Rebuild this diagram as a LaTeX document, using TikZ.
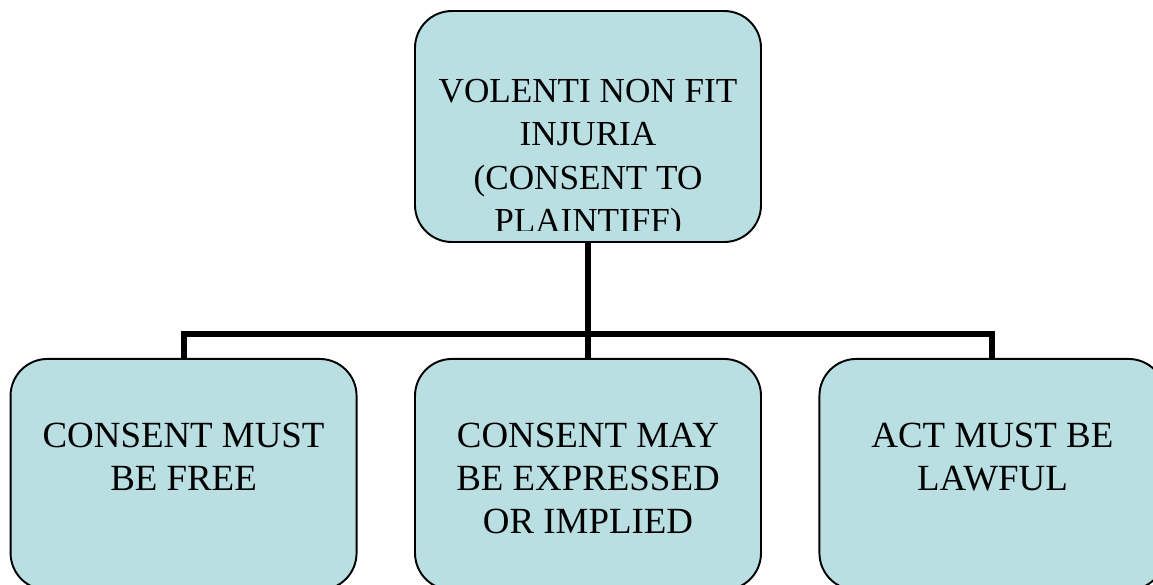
\documentclass[tikz,border=0pt]{standalone}
\usepackage{fontspec}
\setmainfont{Liberation Serif}
\usetikzlibrary{positioning}
\definecolor{boxFill}{HTML}{B9DFE3}
\definecolor{inkText}{HTML}{000000}

\begin{document}
\begin{tikzpicture}[
  every node/.style={text=inkText},
  box/.style={rounded corners=21pt, draw=black, line width=1.1pt, fill=boxFill,
              minimum width=6.92cm, minimum height=4.62cm, inner sep=0pt},
  txt/.style={align=center, inner sep=0pt, anchor=north},
  toptxt/.style={txt, font=\fontsize{20}{24.6}\selectfont},
  subtxt/.style={txt, font=\fontsize{21}{24.5}\selectfont},
  tree/.style={line width=3.4pt, draw=black},
]
\useasboundingbox (0,0) rectangle (23.06,-11.68);
\clip (0,0) rectangle (23.06,-11.68);

% ---------------- BOXES ----------------
\node[box] (VNFI) at (11.76,-2.53) {};
\node[box, below=2.30cm of VNFI] (EXPR) {};
\node[box, left=1.13cm of EXPR] (FREE) {};
\node[box, right=1.13cm of EXPR] (LAWFUL) {};

% ---------------- EDGES ----------------
\draw[tree] (VNFI.south) -- ++(0,-1.82) -| (FREE.north);
\draw[tree] (VNFI.south) -- ++(0,-1.82) -| (LAWFUL.north);
\draw[tree] (VNFI.south) -- (EXPR.north);

% ---------------- TEXTS (top-aligned) ----------------
% the head text runs past the box: cut it at the inner edge
\begin{scope}
  \clip ([yshift=0.24cm]VNFI.south west) rectangle (VNFI.north east);
  \node[toptxt] (VNFItxt) at ([yshift=-1.38cm]VNFI.north)
    {VOLENTI NON FIT\\INJURIA\\(CONSENT TO\\PLAINTIFF)};
\end{scope}
\node[subtxt] (FREEtxt) at ([yshift=-1.30cm]FREE.north) {CONSENT MUST\\BE FREE};
\node[subtxt] (EXPRtxt) at ([yshift=-1.30cm]EXPR.north) {CONSENT MAY\\BE EXPRESSED\\OR IMPLIED};
\node[subtxt] (LAWFULtxt) at ([yshift=-1.30cm]LAWFUL.north) {ACT MUST BE\\LAWFUL};
\end{tikzpicture}
\end{document}
